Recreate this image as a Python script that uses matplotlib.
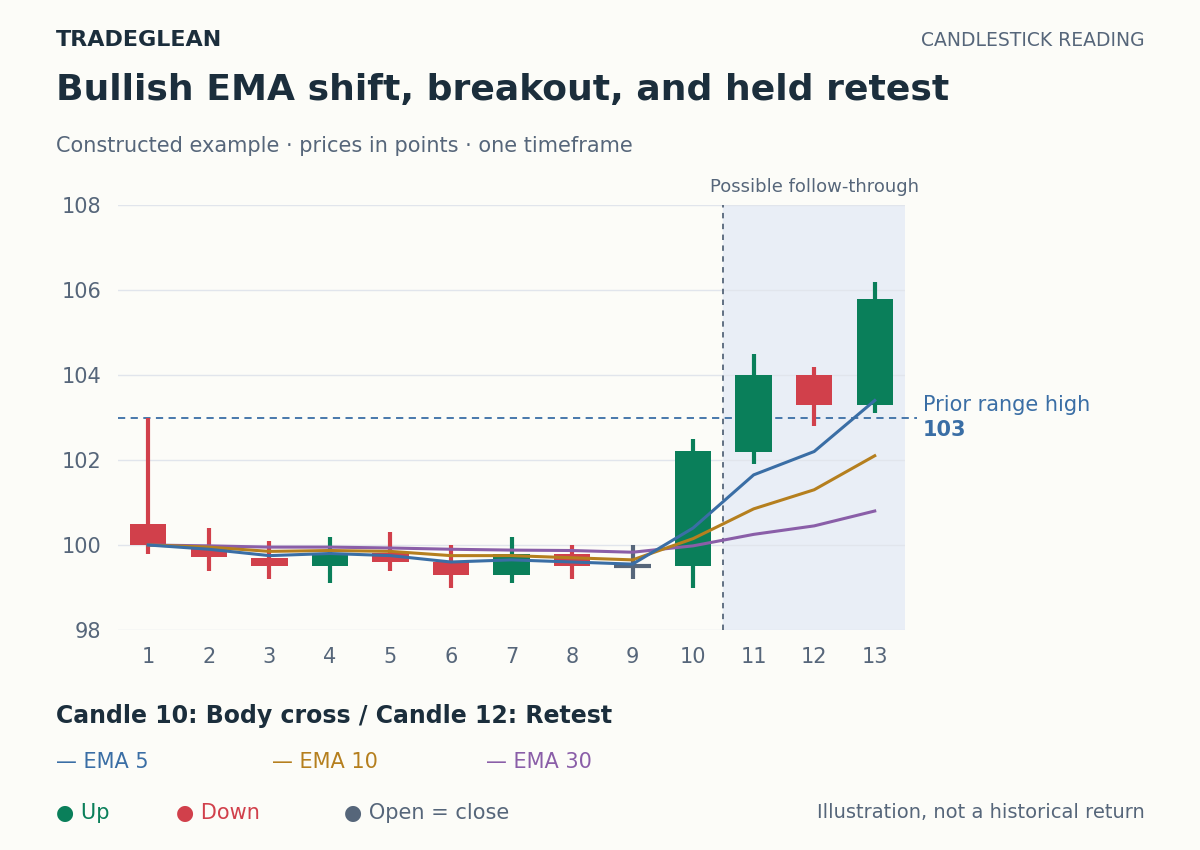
import numpy as np
import matplotlib.pyplot as plt
from matplotlib.patches import Rectangle

candles = list(range(1, 14))
opens = [100.5, 100.0, 99.7, 99.5, 99.8, 99.6, 99.3, 99.8, 99.5, 99.5, 102.2, 104.0, 103.3]
closes = [100.0, 99.72, 99.5, 99.8, 99.6, 99.3, 99.8, 99.5, 99.5, 102.2, 104.0, 103.3, 105.8]
highs = [103.0, 100.4, 100.1, 100.2, 100.3, 100.0, 100.2, 100.0, 100.0, 102.5, 104.5, 104.2, 106.2]
lows = [99.8, 99.4, 99.2, 99.1, 99.4, 99.0, 99.1, 99.2, 99.2, 99.0, 101.9, 102.8, 103.1]
ema5 = [100, 99.9, 99.75, 99.8, 99.75, 99.6, 99.65, 99.6, 99.55, 100.4, 101.65, 102.2, 103.4]
ema10 = [100, 99.95, 99.85, 99.87, 99.85, 99.75, 99.75, 99.7, 99.65, 100.15, 100.85, 101.3, 102.1]
ema30 = [100, 99.98, 99.95, 99.95, 99.93, 99.9, 99.88, 99.87, 99.83, 99.98, 100.25, 100.45, 100.8]
range_high = 103

BG = '#fcfcf8'
UP, DOWN, FLAT = '#0a7f5a', '#d1404b', '#56667a'
C5, C10, C30 = '#3a6ea5', '#b57f1e', '#8a5ea8'
DARK, GREY = '#1b2e3c', '#56667a'

fig = plt.figure(figsize=(12, 8.5), dpi=100, facecolor=BG)
ax = fig.add_axes([118/1200, 1-630/850, (905-118)/1200, (630-205)/850])
ax.set_facecolor(BG)
ax.set_xlim(0.5, 13.5)
ax.set_ylim(98, 108)

ax.axvspan(10.5, 13.5, color='#e9eef6', zorder=0)
ax.axvline(10.5, color=GREY, ls=(0, (3, 3)), lw=1.3, zorder=1)
ax.axhline(range_high, color=C5, ls=(0, (4, 3)), lw=1.3, zorder=1, xmax=1.015, clip_on=False)

for y in range(98, 109, 2):
    ax.axhline(y, color='#e1e5ec', lw=1, zorder=0.5)

w = 0.6
for x, o, c, h, l in zip(candles, opens, closes, highs, lows):
    col = UP if c > o else (DOWN if c < o else FLAT)
    ax.plot([x, x], [l, h], color=col, lw=3, zorder=2, solid_capstyle='butt')
    if c == o:
        ax.plot([x - w/2, x + w/2], [o, o], color=col, lw=3, zorder=2, solid_capstyle='butt')
    else:
        ax.add_patch(Rectangle((x - w/2, min(o, c)), w, abs(c - o), color=col, zorder=2, lw=0))

ax.plot(candles, ema30, color=C30, lw=2.2, zorder=3)
ax.plot(candles, ema10, color=C10, lw=2.2, zorder=3)
ax.plot(candles, ema5, color=C5, lw=2.2, zorder=3)

for s in ax.spines.values():
    s.set_visible(False)
ax.tick_params(length=0, labelsize=15, colors=GREY, pad=12)
ax.set_xticks(candles)
ax.set_yticks(range(98, 109, 2))

ax.text(12.0, 108.2, 'Possible follow-through', ha='center', va='bottom', fontsize=13, color=GREY)
ax.text(13.8, 103.3, 'Prior range high', ha='left', va='center', fontsize=15, color=C5, clip_on=False)
ax.text(13.8, 102.7, '103', ha='left', va='center', fontsize=15, color=C5, weight='bold', clip_on=False)

fig.text(56/1200, 1-40/850, 'TRADEGLEAN', fontsize=16, weight='bold', color=DARK, va='center')
fig.text(1145/1200, 1-40/850, 'CANDLESTICK READING', fontsize=13.5, color=GREY, va='center', ha='right')
fig.text(56/1200, 1-90/850, 'Bullish EMA shift, breakout, and held retest', fontsize=26, weight='bold', color=DARK, va='center')
fig.text(56/1200, 1-146/850, 'Constructed example · prices in points · one timeframe', fontsize=15, color=GREY, va='center')
fig.text(56/1200, 1-716/850, 'Candle 10: Body cross / Candle 12: Retest', fontsize=17, weight='bold', color=DARK, va='center')
for xp, lab, col in [(56, '— EMA 5', C5), (272, '— EMA 10', C10), (486, '— EMA 30', C30)]:
    fig.text(xp/1200, 1-762/850, lab, fontsize=15, color=col, va='center')
for xp, lab, col in [(56, '● Up', UP), (176, '● Down', DOWN), (344, '● Open = close', FLAT)]:
    fig.text(xp/1200, 1-813/850, lab, fontsize=15, color=col, va='center')
fig.text(1145/1200, 1-813/850, 'Illustration, not a historical return', fontsize=14, color=GREY, va='center', ha='right')

fig.savefig('out.png', dpi=100, facecolor=BG)
